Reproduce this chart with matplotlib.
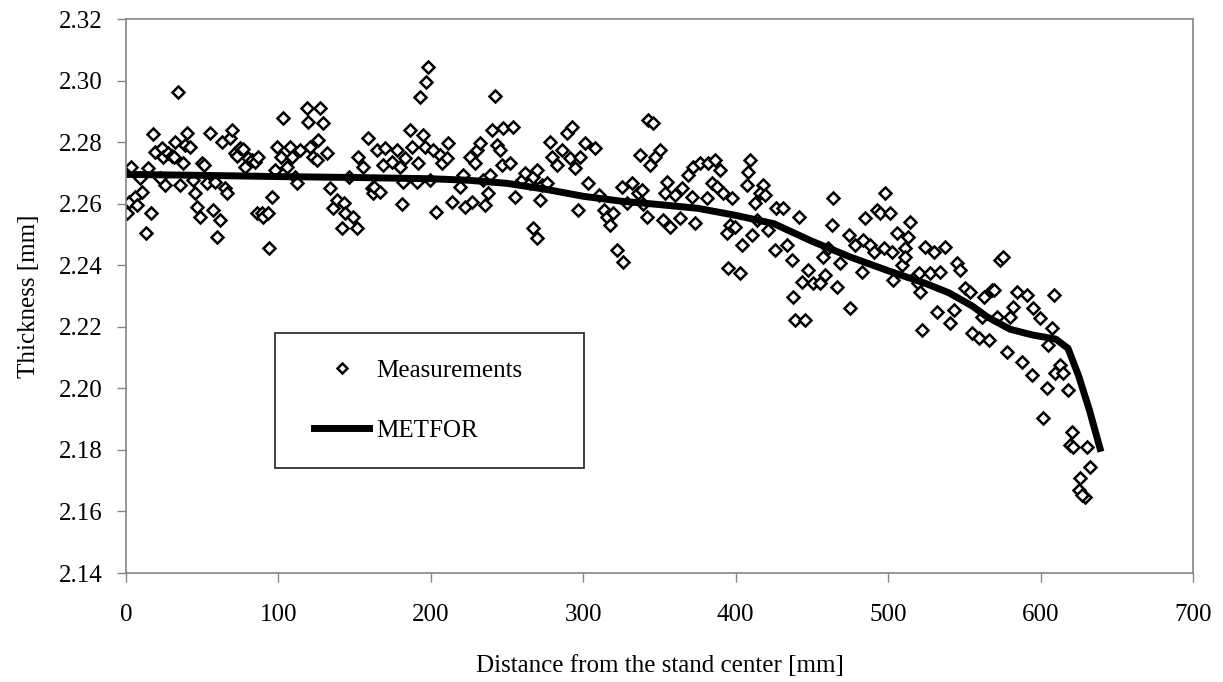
import matplotlib
matplotlib.use('Agg')
from matplotlib import pyplot as plt
from matplotlib.lines import Line2D
from matplotlib.legend_handler import HandlerLine2D

meas_x = [0.4, 2.2, 3.3, 5.9, 7.0, 9.2, 10.3, 13.1, 14.6, 16.2,
          17.5, 19.0, 22.3, 23.4, 24.5, 25.6, 27.8, 30.0, 31.7, 32.2,
          34.3, 35.4, 37.6, 38.7, 39.8, 42.0, 44.2, 45.3, 46.4, 48.6,
          49.7, 51.3, 53.0, 55.1, 57.3, 58.4, 59.5, 61.7, 62.8, 65.0,
          66.1, 68.2, 69.4, 71.5, 72.6, 74.8, 77.0, 78.1, 80.3, 82.5,
          84.7, 85.8, 86.9, 89.0, 90.1, 93.4, 94.0, 95.6, 97.8, 98.8,
          102.0, 103.2, 105.3, 107.6, 108.6, 110.8, 111.9, 114.2, 118.6, 119.7,
          120.7, 122.9, 125.1, 126.2, 127.3, 129.5, 131.7, 133.9, 136.1, 138.3,
          141.6, 142.7, 143.7, 146.0, 149.2, 151.4, 152.5, 155.8, 159.0, 161.2,
          162.3, 164.5, 162.8, 166.7, 168.9, 170.0, 174.3, 177.6, 179.8, 181.3,
          182.0, 183.1, 186.4, 187.5, 190.7, 191.8, 192.9, 195.1, 196.0, 196.9,
          198.4, 199.5, 201.6, 203.4, 206.0, 207.1, 210.4, 211.5, 213.7, 219.2,
          221.3, 222.4, 225.7, 226.8, 228.9, 230.1, 232.3, 234.5, 235.6, 237.7,
          238.8, 239.9, 242.1, 243.2, 245.4, 246.5, 247.6, 251.9, 254.1, 255.2,
          259.6, 261.8, 265.1, 266.8, 267.3, 269.4, 269.5, 271.7, 272.8, 276.1,
          278.2, 279.3, 282.6, 285.8, 289.1, 291.3, 292.4, 294.6, 296.8, 297.9,
          301.2, 303.3, 307.7, 310.0, 313.3, 315.4, 317.6, 319.8, 321.9, 325.2,
          326.3, 328.5, 331.8, 336.1, 337.3, 342.7, 346.0, 350.4, 347.2, 343.8,
          338.4, 341.7, 339.5, 352.6, 356.9, 354.8, 353.7, 360.2, 364.6, 363.5,
          369.0, 371.2, 372.3, 373.0, 376.6, 381.0, 382.1, 386.5, 389.8, 384.3,
          387.6, 391.9, 397.4, 394.1, 396.3, 399.6, 395.2, 402.9, 404.0, 407.3,
          408.0, 409.4, 410.5, 412.7, 418.2, 416.0, 419.3, 413.8, 421.5, 425.9,
          426.5, 431.3, 433.5, 436.8, 441.2, 437.9, 439.0, 445.5, 443.3, 447.7,
          451.0, 455.4, 457.5, 458.6, 460.8, 463.0, 464.1, 466.3, 468.5, 475.0,
          474.0, 478.3, 482.7, 483.8, 485.0, 488.2, 490.4, 492.6, 494.8, 498.0,
          497.0, 501.4, 502.5, 505.7, 503.5, 508.9, 511.1, 513.3, 514.4, 517.7,
          519.9, 511.2, 520.0, 521.0, 522.1, 524.3, 529.8, 532.0, 527.6, 534.2,
          537.4, 540.7, 542.9, 545.0, 547.2, 550.5, 553.8, 554.9, 559.3, 562.6,
          565.9, 561.5, 567.9, 571.2, 569.5, 573.5, 575.6, 577.9, 580.1, 582.2,
          584.4, 587.7, 591.0, 594.3, 595.3, 599.7, 604.1, 601.9, 605.2, 607.4,
          608.5, 609.6, 612.9, 615.0, 618.3, 620.5, 619.4, 621.6, 630.3, 632.5,
          626.0, 624.9, 629.2, 627.0]
meas_y = [2.2569, 2.2606, 2.2718, 2.2623, 2.2596, 2.2682, 2.2639, 2.2504, 2.2715, 2.2569,
          2.2826, 2.2769, 2.2682, 2.2780, 2.2753, 2.2661, 2.2764, 2.2755, 2.2753, 2.2801,
          2.2962, 2.2661, 2.2731, 2.2791, 2.2829, 2.2785, 2.2677, 2.2634, 2.2590, 2.2558,
          2.2731, 2.2727, 2.2666, 2.2829, 2.2579, 2.2671, 2.2493, 2.2547, 2.2801, 2.2650,
          2.2634, 2.2812, 2.2839, 2.2764, 2.2755, 2.2780, 2.2777, 2.2720, 2.2747, 2.2743,
          2.2737, 2.2569, 2.2753, 2.2570, 2.2558, 2.2569, 2.2455, 2.2623, 2.2709, 2.2785,
          2.2753, 2.2877, 2.2720, 2.2785, 2.2753, 2.2688, 2.2666, 2.2774, 2.2910, 2.2866,
          2.2785, 2.2753, 2.2743, 2.2807, 2.2910, 2.2861, 2.2764, 2.2650, 2.2585, 2.2612,
          2.2520, 2.2601, 2.2569, 2.2688, 2.2558, 2.2520, 2.2753, 2.2720, 2.2812, 2.2650,
          2.2634, 2.2774, 2.2655, 2.2639, 2.2726, 2.2780, 2.2736, 2.2774, 2.2720, 2.2599,
          2.2671, 2.2747, 2.2839, 2.2785, 2.2671, 2.2731, 2.2946, 2.2823, 2.2785, 2.2996,
          2.3043, 2.2677, 2.2774, 2.2572, 2.2758, 2.2731, 2.2747, 2.2796, 2.2606, 2.2655,
          2.2693, 2.2590, 2.2753, 2.2606, 2.2731, 2.2774, 2.2796, 2.2677, 2.2596, 2.2634,
          2.2693, 2.2839, 2.2950, 2.2791, 2.2774, 2.2726, 2.2845, 2.2731, 2.2850, 2.2623,
          2.2677, 2.2699, 2.2666, 2.2520, 2.2688, 2.2488, 2.2709, 2.2612, 2.2661, 2.2666,
          2.2801, 2.2753, 2.2726, 2.2774, 2.2829, 2.2747, 2.2850, 2.2715, 2.2579, 2.2753,
          2.2796, 2.2666, 2.2780, 2.2628, 2.2579, 2.2558, 2.2531, 2.2569, 2.2450, 2.2655,
          2.2412, 2.2601, 2.2666, 2.2634, 2.2758, 2.2872, 2.2861, 2.2774, 2.2753, 2.2726,
          2.2644, 2.2558, 2.2599, 2.2547, 2.2525, 2.2671, 2.2634, 2.2628, 2.2650, 2.2553,
          2.2693, 2.2623, 2.2720, 2.2536, 2.2731, 2.2617, 2.2731, 2.2742, 2.2709, 2.2666,
          2.2655, 2.2634, 2.2617, 2.2504, 2.2531, 2.2525, 2.2390, 2.2374, 2.2466, 2.2661,
          2.2704, 2.2742, 2.2498, 2.2601, 2.2661, 2.2634, 2.2628, 2.2547, 2.2515, 2.2450,
          2.2585, 2.2585, 2.2466, 2.2417, 2.2558, 2.2298, 2.2222, 2.2222, 2.2347, 2.2385,
          2.2341, 2.2341, 2.2428, 2.2368, 2.2455, 2.2531, 2.2617, 2.2330, 2.2406, 2.2260,
          2.2498, 2.2466, 2.2379, 2.2482, 2.2553, 2.2466, 2.2444, 2.2580, 2.2569, 2.2634,
          2.2455, 2.2569, 2.2444, 2.2504, 2.2352, 2.2401, 2.2455, 2.2493, 2.2542, 2.2363,
          2.2341, 2.2428, 2.2374, 2.2314, 2.2190, 2.2460, 2.2444, 2.2249, 2.2374, 2.2379,
          2.2460, 2.2211, 2.2255, 2.2406, 2.2385, 2.2325, 2.2314, 2.2179, 2.2163, 2.2298,
          2.2157, 2.2233, 2.2320, 2.2233, 2.2320, 2.2417, 2.2428, 2.2119, 2.2233, 2.2265,
          2.2314, 2.2087, 2.2303, 2.2043, 2.2260, 2.2228, 2.2000, 2.1903, 2.2141, 2.2195,
          2.2303, 2.2049, 2.2076, 2.2049, 2.1995, 2.1859, 2.1816, 2.1811, 2.1810, 2.1746,
          2.1708, 2.1670, 2.1648, 2.1652]

# METFOR model curve
metfor_x = [0, 50, 100, 150, 200, 225, 250, 275, 300, 325, 350, 375, 400, 425,
            450, 475, 500, 525, 540, 555, 565, 580, 595, 610, 618, 625, 632, 639]
metfor_y = [2.2695, 2.2692, 2.2688, 2.2685, 2.2681, 2.2676, 2.2666, 2.2647, 2.2624,
            2.2608, 2.2597, 2.2585, 2.2562, 2.2535, 2.2478, 2.2427, 2.2382, 2.2340,
            2.2310, 2.2268, 2.2232, 2.2192, 2.2173, 2.2160, 2.2130, 2.2040, 2.1930,
            2.1805]

x_ticks = [0, 100, 200, 300, 400, 500, 600, 700]
y_ticks = [2.14, 2.16, 2.18, 2.20, 2.22, 2.24, 2.26, 2.28, 2.30, 2.32]

plt.rcParams['font.family'] = ['Liberation Serif', 'DejaVu Serif']
plt.rcParams['font.size'] = 18

fig = plt.figure(figsize=(12.23, 6.82), dpi=100)
ax = fig.add_axes([126/1223, 1 - 573/682, 1067/1223, 554/682])

ax.plot(meas_x, meas_y, linestyle='none', marker='D', markersize=6.2,
        markerfacecolor='white', markeredgecolor='black', markeredgewidth=1.8,
        label='Measurements')
ax.plot(metfor_x, metfor_y, color='black', linewidth=5, label='METFOR')

ax.set_xlim(0, 700)
ax.set_ylim(2.14, 2.32)
ax.set_xticks(x_ticks)
ax.set_yticks(y_ticks)
ax.set_yticklabels(['%.2f' % v for v in y_ticks])

for s in ax.spines.values():
    s.set_color('#858585')
    s.set_linewidth(1.2)
ax.tick_params(axis='both', direction='out', length=6.5, width=1.0, color='#858585')
ax.tick_params(axis='y', pad=10)
ax.tick_params(axis='x', pad=16)

ax.set_xlabel('Distance from the stand center [mm]', labelpad=21)
ax.set_ylabel('Thickness [mm]', labelpad=14)

# legend box like the original (square, black frame)
leg = ax.legend(loc='upper left', bbox_to_anchor=(0.140, 0.0, 0.289, 0.433),
                mode='expand', frameon=True, fancybox=False, borderpad=1.05,
                labelspacing=1.5, handlelength=2.7, handletextpad=0.3,
                markerscale=0.8, borderaxespad=0,
                handler_map={Line2D: HandlerLine2D(xpad=0.5)})
leg.get_frame().set_edgecolor('black')
leg.get_frame().set_linewidth(1.3)

fig.savefig('out.png', dpi=100)
